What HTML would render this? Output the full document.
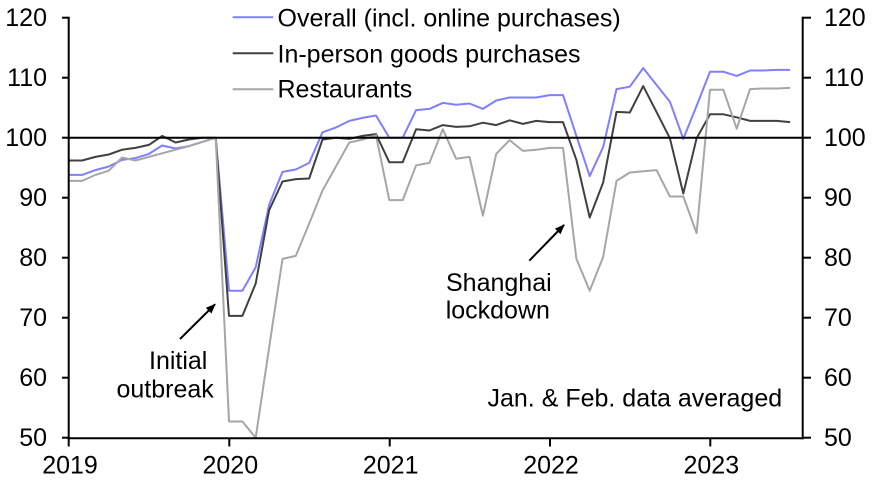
<!DOCTYPE html>
<html>
<head>
<meta charset="utf-8">
<style>
  html, body { margin:0; padding:0; background:#ffffff; }
  svg { display:block; }
  text { font-family: "Liberation Sans", Arial, sans-serif; font-size:25px; fill:#000; }
</style>
</head>
<body>
<svg width="873" height="482" viewBox="0 0 873 482" xmlns="http://www.w3.org/2000/svg">
  <defs>
    <marker id="ah" markerWidth="10" markerHeight="8" refX="9" refY="4" orient="auto" markerUnits="userSpaceOnUse">
      <path d="M0,0 L10,4 L0,8 Z" fill="#000"/>
    </marker>
  </defs>
  <rect x="0" y="0" width="873" height="482" fill="#fff"/>

  <!-- series -->
  <polyline fill="none" stroke="#7f7fff" stroke-width="2" stroke-linejoin="round" points="
68.7,174.9 82.1,174.9 95.4,170.1 108.8,166.5 122.1,159.9 135.5,158.1 148.9,153.9 162.2,145.5 175.6,148.5 188.9,146.1 202.3,141.9 215.7,137.7
229.0,290.7 242.4,290.7 255.7,267.3 269.1,204.9 282.5,171.9 295.8,169.5 309.2,162.9 322.5,132.3 335.9,127.5 349.3,120.9 362.6,117.9 376.0,115.5
389.3,137.7 402.7,137.7 416.1,110.1 429.4,108.9 442.8,102.9 456.1,104.7 469.5,103.5 482.9,108.9 496.2,100.5 509.6,97.5 522.9,97.5 536.3,97.5
549.7,95.1 563.0,95.1 576.4,135.9 589.7,176.1 603.1,147.3 616.5,89.1 629.8,86.7 643.2,68.1 656.5,84.9 669.9,101.7 683.3,138.9 696.6,105.9
710.0,71.7 723.3,71.7 736.7,75.9 750.1,70.5 763.4,70.5 776.8,69.9 790.1,69.9"/>

  <polyline fill="none" stroke="#404040" stroke-width="2" stroke-linejoin="round" points="
68.7,160.5 82.1,160.5 95.4,156.9 108.8,154.5 122.1,149.7 135.5,147.9 148.9,144.9 162.2,135.9 175.6,142.5 188.9,139.5 202.3,137.7 215.7,137.7
229.0,315.9 242.4,315.9 255.7,283.5 269.1,210.3 282.5,181.5 295.8,179.1 309.2,178.5 322.5,139.5 335.9,137.7 349.3,138.9 362.6,135.9 376.0,134.1
389.3,162.3 402.7,162.3 416.1,129.3 429.4,130.5 442.8,125.1 456.1,126.9 469.5,126.3 482.9,122.7 496.2,125.1 509.6,120.3 522.9,123.9 536.3,120.9
549.7,122.1 563.0,122.1 576.4,159.9 589.7,217.5 603.1,182.7 616.5,111.9 629.8,112.5 643.2,86.1 656.5,111.9 669.9,138.3 683.3,193.5 696.6,138.3
710.0,114.3 723.3,114.3 736.7,117.3 750.1,120.9 763.4,120.9 776.8,120.9 790.1,122.1"/>

  <polyline fill="none" stroke="#a6a6a6" stroke-width="2" stroke-linejoin="round" points="
68.7,180.9 82.1,180.9 95.4,174.9 108.8,170.7 122.1,157.5 135.5,160.5 148.9,156.9 162.2,153.3 175.6,149.7 188.9,146.1 202.3,141.9 215.7,137.7
229.0,421.5 242.4,421.5 255.7,437.7 269.1,347.7 282.5,258.9 295.8,255.9 309.2,223.5 322.5,190.5 335.9,166.5 349.3,142.5 362.6,139.5 376.0,135.3
389.3,200.1 402.7,200.1 416.1,165.3 429.4,162.9 442.8,129.3 456.1,158.7 469.5,156.9 482.9,215.7 496.2,153.9 509.6,140.1 522.9,150.9 536.3,149.7
549.7,147.9 563.0,147.9 576.4,258.9 589.7,290.7 603.1,257.1 616.5,180.9 629.8,172.5 643.2,171.3 656.5,170.1 669.9,196.5 683.3,196.5 696.6,233.1
710.0,89.7 723.3,89.7 736.7,128.7 750.1,89.1 763.4,88.5 776.8,88.5 790.1,87.9"/>

  <!-- 100 reference line -->
  <line x1="68.7" y1="137.7" x2="802.7" y2="137.7" stroke="#000" stroke-width="2"/>

  <!-- axes -->
  <line x1="68.7" y1="16.7" x2="68.7" y2="439.3" stroke="#000" stroke-width="2"/>
  <line x1="802.7" y1="16.7" x2="802.7" y2="439.3" stroke="#000" stroke-width="2"/>
  <line x1="67.7" y1="438.3" x2="803.7" y2="438.3" stroke="#000" stroke-width="2"/>

  <!-- left ticks -->
  <g stroke="#000" stroke-width="2">
    <line x1="62" y1="17.7" x2="68.7" y2="17.7"/>
    <line x1="62" y1="77.7" x2="68.7" y2="77.7"/>
    <line x1="62" y1="137.7" x2="68.7" y2="137.7"/>
    <line x1="62" y1="197.7" x2="68.7" y2="197.7"/>
    <line x1="62" y1="257.7" x2="68.7" y2="257.7"/>
    <line x1="62" y1="317.7" x2="68.7" y2="317.7"/>
    <line x1="62" y1="377.7" x2="68.7" y2="377.7"/>
    <line x1="62" y1="437.7" x2="68.7" y2="437.7"/>
    <!-- right ticks -->
    <line x1="802.7" y1="17.7" x2="811" y2="17.7"/>
    <line x1="802.7" y1="77.7" x2="811" y2="77.7"/>
    <line x1="802.7" y1="137.7" x2="811" y2="137.7"/>
    <line x1="802.7" y1="197.7" x2="811" y2="197.7"/>
    <line x1="802.7" y1="257.7" x2="811" y2="257.7"/>
    <line x1="802.7" y1="317.7" x2="811" y2="317.7"/>
    <line x1="802.7" y1="377.7" x2="811" y2="377.7"/>
    <line x1="802.7" y1="437.7" x2="811" y2="437.7"/>
    <!-- x ticks -->
    <line x1="68.7" y1="438" x2="68.7" y2="446.5"/>
    <line x1="229.3" y1="438" x2="229.3" y2="446.5"/>
    <line x1="389.7" y1="438" x2="389.7" y2="446.5"/>
    <line x1="550" y1="438" x2="550" y2="446.5"/>
    <line x1="710.3" y1="438" x2="710.3" y2="446.5"/>
  </g>

  <!-- left labels -->
  <g text-anchor="end">
    <text x="47" y="26.2">120</text>
    <text x="47" y="86.2">110</text>
    <text x="47" y="146.2">100</text>
    <text x="47" y="206.2">90</text>
    <text x="47" y="266.2">80</text>
    <text x="47" y="326.2">70</text>
    <text x="47" y="386.2">60</text>
    <text x="47" y="446.2">50</text>
  </g>
  <!-- right labels -->
  <g text-anchor="start">
    <text x="824" y="26.2">120</text>
    <text x="824" y="86.2">110</text>
    <text x="824" y="146.2">100</text>
    <text x="824" y="206.2">90</text>
    <text x="824" y="266.2">80</text>
    <text x="824" y="326.2">70</text>
    <text x="824" y="386.2">60</text>
    <text x="824" y="446.2">50</text>
  </g>
  <!-- x labels -->
  <g text-anchor="middle">
    <text x="70" y="473.3">2019</text>
    <text x="230.3" y="473.3">2020</text>
    <text x="390.7" y="473.3">2021</text>
    <text x="551" y="473.3">2022</text>
    <text x="711.3" y="473.3">2023</text>
  </g>

  <!-- legend -->
  <line x1="232.7" y1="17.3" x2="273.3" y2="17.3" stroke="#7f7fff" stroke-width="2"/>
  <text x="277.5" y="26.7">Overall (incl. online purchases)</text>
  <line x1="232.7" y1="53.3" x2="273.3" y2="53.3" stroke="#404040" stroke-width="2"/>
  <text x="277.5" y="62.3">In-person goods purchases</text>
  <line x1="232.7" y1="89.3" x2="273.3" y2="89.3" stroke="#a6a6a6" stroke-width="2"/>
  <text x="277.5" y="97.7">Restaurants</text>

  <!-- annotations -->
  <line x1="180" y1="339" x2="215" y2="304.3" stroke="#000" stroke-width="2" marker-end="url(#ah)"/>
  <text x="149" y="369">Initial</text>
  <text x="116.5" y="397.3">outbreak</text>

  <line x1="529.3" y1="260.7" x2="564" y2="225" stroke="#000" stroke-width="2" marker-end="url(#ah)"/>
  <text x="446" y="291">Shanghai</text>
  <text x="445.7" y="318.3">lockdown</text>

  <text x="487.5" y="406.7">Jan. &amp; Feb. data averaged</text>
</svg>
</body>
</html>
